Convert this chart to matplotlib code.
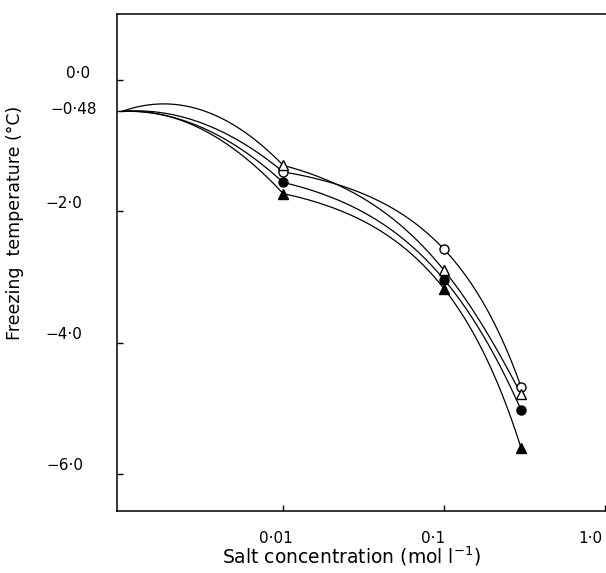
import numpy as np
import matplotlib
matplotlib.use('Agg')
import matplotlib.pyplot as plt
import matplotlib.transforms as mtransforms

# zero-salt freezing point, drawn at the left edge of the log axis
x_start = 0.001
y_start = -0.48

conc = [0.01, 0.1, 0.3]
open_circle = [-1.40, -2.58, -4.67]
open_tri = [-1.30, -2.90, -4.78]
filled_circle = [-1.56, -3.04, -5.02]
filled_tri = [-1.73, -3.18, -5.60]

# slope of the hand drawn curves where they leave the zero-salt point
start_slope = [0.19, 0.88, 0.08, 0.14]

yticks = [0.0, -0.48, -2.0, -4.0, -6.0]
yticklabels = ['0\u00b70', '\u22120\u00b748', '\u22122\u00b70', '\u22124\u00b70', '\u22126\u00b70']
xticks = [0.01, 0.1, 1.0]
xticklabels = ['0\u00b701', '0\u00b71', '1\u00b70']

series = [
    (open_circle, 'o', 'white'),
    (open_tri, '^', 'white'),
    (filled_circle, 'o', 'black'),
    (filled_tri, '^', 'black'),
]

fig = plt.figure(figsize=(6.06, 5.73), dpi=100)
ax = fig.add_axes([0.193, 0.108, 0.807, 0.8674])
ax.set_xscale('log')

for (vals, mk, fc), s0 in zip(series, start_slope):
    # left part: quadratic in log10(x) from the zero-salt point
    xl = np.logspace(np.log10(x_start), np.log10(conc[0]), 100)
    t = np.log10(xl / x_start)
    a = vals[0] - y_start - s0
    ax.plot(xl, y_start + s0 * t + a * t**2, color='black', lw=0.9)
    # right part: quadratic in x**0.75 through the three measured points
    z = np.array(conc) ** 0.75
    p = np.polyfit(z, vals, 2)
    xr = np.linspace(conc[0], conc[-1], 200)
    ax.plot(xr, np.polyval(p, xr ** 0.75), color='black', lw=0.9)
    ax.plot(conc, vals, linestyle='none', marker=mk, ms=6.5,
            mfc=fc, mec='black', mew=1.0, zorder=3)

ax.set_xlim(0.00093, 1.01)
ax.set_ylim(-6.56, 1.0)

ax.set_yticks(yticks)
ax.set_yticklabels(yticklabels)
ax.set_xticks(xticks)
ax.set_xticklabels(xticklabels)
ax.minorticks_off()
ax.tick_params(direction='in', length=4, width=1.0, labelsize=11, colors='black')
ax.tick_params(axis='y', pad=20)
ax.tick_params(axis='x', pad=14)

# labels in the original sit a little off their ticks (pixels)
y_shift = [(1, 8), (8, 3), (-7, 9), (-7, 10), (-6, 10)]
x_shift = [-7, -11, -15]
for tk, (dx, dy) in zip(ax.yaxis.get_major_ticks(), y_shift):
    off = mtransforms.ScaledTranslation(dx / 100, dy / 100, fig.dpi_scale_trans)
    tk.label1.set_transform(tk.label1.get_transform() + off)
for tk, dx in zip(ax.xaxis.get_major_ticks(), x_shift):
    off = mtransforms.ScaledTranslation(dx / 100, 0, fig.dpi_scale_trans)
    tk.label1.set_transform(tk.label1.get_transform() + off)

ax.spines['right'].set_visible(False)
for sp in ['left', 'bottom', 'top']:
    ax.spines[sp].set_linewidth(1.1)

ax.set_xlabel('Salt concentration (mol l$^{-1}$)', fontsize=13.5)
ax.xaxis.set_label_coords(0.48, -0.068)
ax.set_ylabel('Freezing  temperature (\u00b0C)', fontsize=12.5)
ax.yaxis.set_label_coords(-0.19, 0.58)

fig.savefig('out.png', dpi=100)
